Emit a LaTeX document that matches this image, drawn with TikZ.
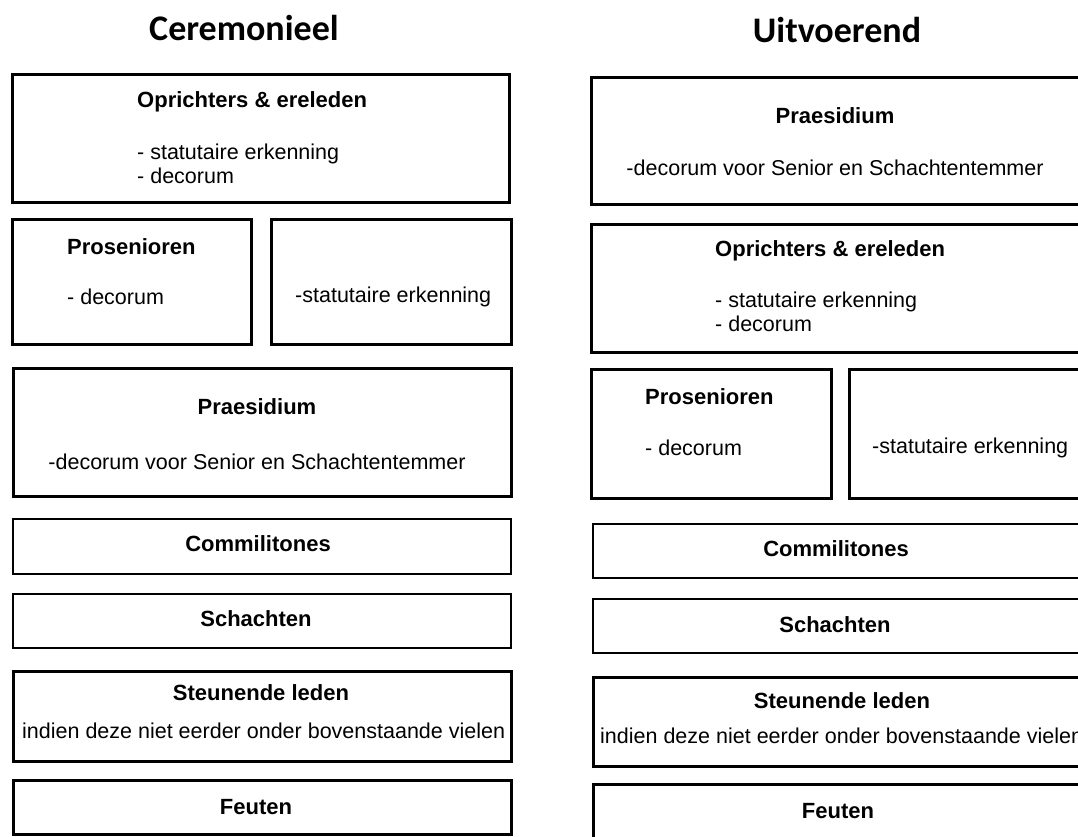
\documentclass[tikz,border=0pt]{standalone}
\usepackage{fontspec}
\setmainfont{Liberation Sans}
\newfontfamily\headfont{Carlito}
\usetikzlibrary{positioning}
\tikzset{
  every picture/.style = {
    x = 1pt,
    y = -1pt,
  }
  ,
  group/.style = {
    rectangle,
    draw,
    line width = 2.6pt,
    anchor = north west,
    inner sep = 0pt
  }
  , % thinner boxes
  slim/.style = {
    group,
    line width = 2pt
  }
  ,
  head/.style = {
    font = \headfont\bfseries\fontsize{36}{40}\selectfont
  }
  , % bold names in the boxes
  title/.style = {
    font = \bfseries\fontsize{22}{26}\selectfont,
    inner sep = 0pt,
    anchor = mid,
    yshift = -4pt
  }
  , % plain lines in the boxes
  item/.style = {
    font = \fontsize{21.5}{25}\selectfont,
    inner sep = 0pt,
    anchor = mid west,
    yshift = -4pt
  }
}
\begin{document}
\begin{tikzpicture}
\useasboundingbox (0,0) rectangle (1078,836);
\clip (0,0) rectangle (1078,836);
% Ceremonieel
\node[head] (hc) at (244,28) {Ceremonieel};
\node[group, minimum width=497pt, minimum height=128pt] (lopr) at (11,73) {};
\node[title, anchor=mid west] (loprt) at (137,101) {Oprichters \& ereleden};
\node[item] (lopra) at (137,153) {- statutaire erkenning};
\node[item] (loprb) at (137,177) {- decorum};
\node[group, minimum width=239pt, minimum height=125pt] (lpros) at (11,218) {};
\node[group, minimum width=240pt, minimum height=125pt] (lstat) at (270,218) {};
\node[title, anchor=mid west] (lprost) at (67,248) {Prosenioren};
\node[item] (lprosa) at (67,298) {- decorum};
\node[item] (lstata) at (295,296) {-statutaire erkenning};
\node[group, minimum width=498pt, minimum height=128pt] (lpraes) at (12,367) {};
\node[title] (lpraest) at (257,408) {Praesidium};
\node[item, anchor=mid] (lpraesa) at (257,463) {-decorum voor Senior en Schachtentemmer};
\node[slim, minimum width=498pt, minimum height=55pt] (lcomm) at (12,518) {};
\node[title] (lcommt) at (258,545) {Commilitones};
\node[slim, minimum width=498pt, minimum height=54pt] (lscha) at (12,593) {};
\node[title] (lschat) at (256,620) {Schachten};
\node[group, minimum width=498pt, minimum height=90pt] (lsteun) at (12,670) {};
\node[title] (lsteunt) at (261,694) {Steunende leden};
\node[item] (lsteuna) at (22,732) {indien deze niet eerder onder bovenstaande vielen};
\node[group, minimum width=498pt, minimum height=54pt] (lfeut) at (12,779) {};
\node[title] (lfeutt) at (256,808) {Feuten};
% Uitvoerend
\node[head] (hu) at (837,30) {Uitvoerend};
\node[group, minimum width=500pt, minimum height=127pt] (rpraes) at (590,76) {};
\node[title] (rpraest) at (835,117) {Praesidium};
\node[item, anchor=mid] (rpraesa) at (835,169) {-decorum voor Senior en Schachtentemmer};
\node[group, minimum width=500pt, minimum height=128pt] (ropr) at (590,223) {};
\node[title, anchor=mid west] (roprt) at (715,250) {Oprichters \& ereleden};
\node[item] (ropra) at (715,301) {- statutaire erkenning};
\node[item] (roprb) at (715,325) {- decorum};
\node[group, minimum width=240pt, minimum height=129pt] (rpros) at (590,368) {};
\node[group, minimum width=240pt, minimum height=129pt] (rstat) at (848,368) {};
\node[title, anchor=mid west] (rprost) at (645,398) {Prosenioren};
\node[item] (rprosa) at (645,449) {- decorum};
\node[item] (rstata) at (872,447) {-statutaire erkenning};
\node[slim, minimum width=500pt, minimum height=54pt] (rcomm) at (592,523) {};
\node[title] (rcommt) at (836,550) {Commilitones};
\node[slim, minimum width=500pt, minimum height=54pt] (rscha) at (592,598) {};
\node[title] (rschat) at (835,626) {Schachten};
\node[group, minimum width=500pt, minimum height=89pt] (rsteun) at (592,676) {};
\node[title] (rsteunt) at (842,702) {Steunende leden};
\node[item] (rsteuna) at (600,737) {indien deze niet eerder onder bovenstaande vielen};
\node[group, minimum width=500pt, minimum height=60pt] (rfeut) at (592,783) {};
\node[title] (rfeutt) at (838,812) {Feuten};
\end{tikzpicture}
\end{document}
